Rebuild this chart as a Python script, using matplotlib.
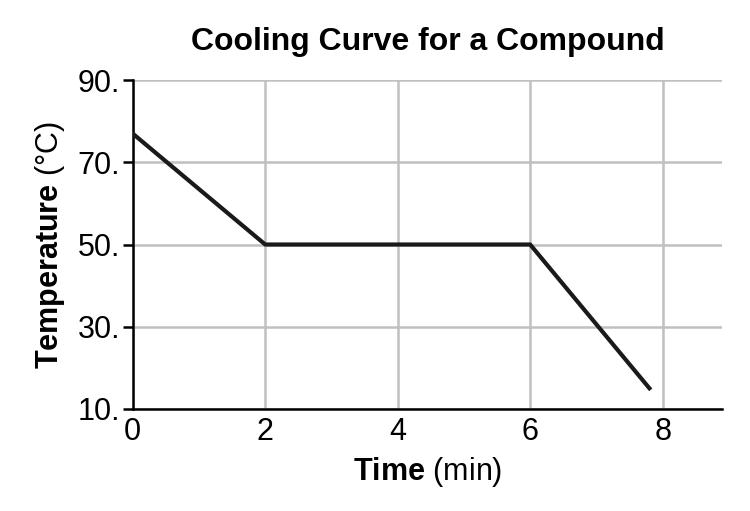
import matplotlib
matplotlib.use('Agg')
from matplotlib import pyplot as plt

plt.rcParams['font.family'] = ['Liberation Sans', 'DejaVu Sans']
plt.rcParams['mathtext.fontset'] = 'custom'
plt.rcParams['mathtext.rm'] = 'Liberation Sans'
plt.rcParams['mathtext.bf'] = 'Liberation Sans:bold'

time_min = [0, 2, 6, 7.8]
temp_c = [77, 50, 50, 15]
x_ticks = [0, 2, 4, 6, 8]
y_ticks = [10, 30, 50, 70, 90]
y_labels = ["10.", "30.", "50.", "70.", "90."]

fig = plt.figure(figsize=(7.5, 5.11), dpi=100)
ax = fig.add_axes([0.177, 0.2, 0.786, 0.643])
ax.plot(time_min, temp_c, color='#1a1a1a', linewidth=3, zorder=3)

ax.set_xlim(0, 8.9)
ax.set_ylim(10, 90)
ax.set_xticks(x_ticks)
ax.set_yticks(y_ticks)
ax.set_yticklabels(y_labels)
ax.grid(True, color='#c0c0c0', linewidth=1.8)
for s in ['top', 'right']:
    ax.spines[s].set_visible(False)
for s in ['left', 'bottom']:
    ax.spines[s].set_linewidth(1.8)
ax.tick_params(axis='both', labelsize=22, width=1.8, length=7)
ax.tick_params(axis='y', pad=2)
ax.tick_params(axis='x', length=0, pad=6)

ax.set_title("Cooling Curve for a Compound", fontsize=23, fontweight='bold', pad=22)
ax.set_xlabel(r"$\mathbf{Time}$ (min)", fontsize=22, labelpad=6)
ax.set_ylabel(r"$\mathbf{Temperature}$ (°C)", fontsize=22, labelpad=8)

plt.savefig("out.png", dpi=100)
